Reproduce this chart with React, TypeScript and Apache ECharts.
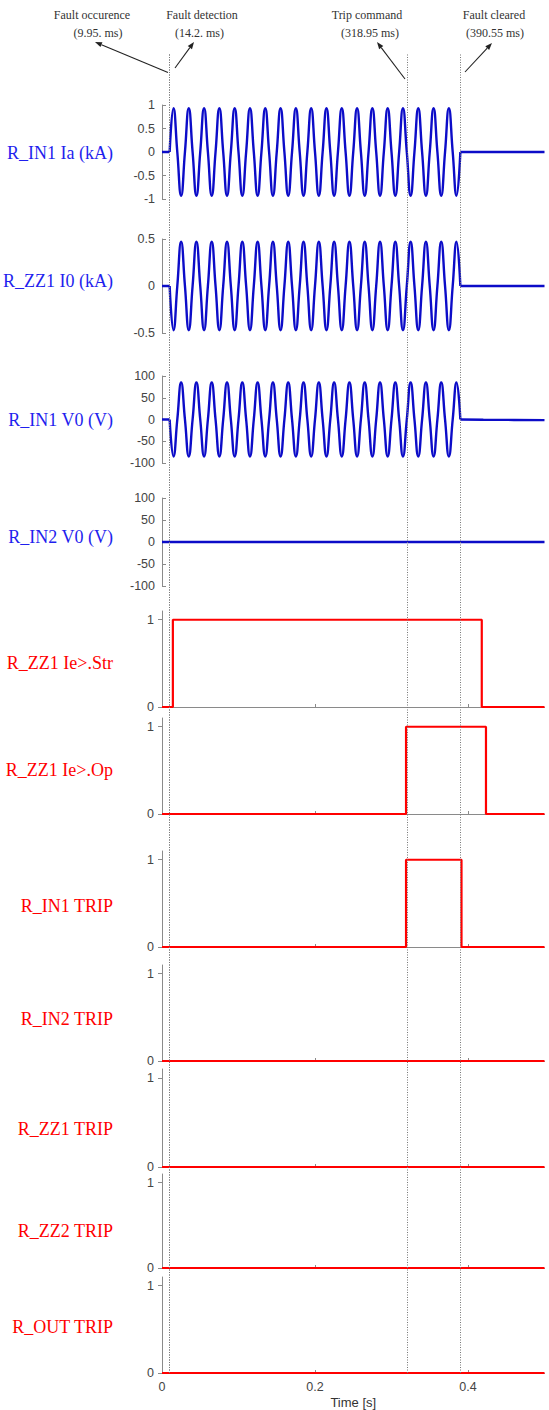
import React, { useEffect, useRef } from "react";
import * as echarts from "echarts";

// ---------- data ----------
const eventTimesS = [0.00995, 0.0142, 0.31895, 0.39055];
const eventTitles = ["Fault occurence", "Fault detection", "Trip command", "Fault cleared"];
const eventTimeTexts = ["(9.95. ms)", "(14.2. ms)", "(318.95 ms)", "(390.55 ms)"];

// sample grid (5 ms, quarter period of 50 Hz) during the fault, 0.010 s .. 0.390 s
const WAVE_START_S = 0.01;
const WAVE_STEP_S = 0.005;
const WAVE_POINTS = 77;
const faultWaveTimes = Array.from({ length: WAVE_POINTS }, (_, i) => Number((WAVE_START_S + i * WAVE_STEP_S).toFixed(4)));

const iaKA = [
  0,
  0.93, 0, -0.93, 0, 0.93, 0, -0.93, 0, 0.93, 0, -0.93, 0, 0.93, 0, -0.93, 0,
  0.93, 0, -0.93, 0, 0.93, 0, -0.93, 0, 0.93, 0, -0.93, 0, 0.93, 0, -0.93, 0,
  0.93, 0, -0.93, 0, 0.93, 0, -0.93, 0, 0.93, 0, -0.93, 0, 0.93, 0, -0.93, 0,
  0.93, 0, -0.93, 0, 0.93, 0, -0.93, 0, 0.93, 0, -0.93, 0, 0.93, 0, -0.93, 0,
  0.93, 0, -0.93, 0, 0.93, 0, -0.93, 0, 0.93, 0, -0.93, 0,
];
const i0KA = [
  0,
  -0.47, 0, 0.47, 0, -0.47, 0, 0.47, 0, -0.47, 0, 0.47, 0, -0.47, 0, 0.47, 0,
  -0.47, 0, 0.47, 0, -0.47, 0, 0.47, 0, -0.47, 0, 0.47, 0, -0.47, 0, 0.47, 0,
  -0.47, 0, 0.47, 0, -0.47, 0, 0.47, 0, -0.47, 0, 0.47, 0, -0.47, 0, 0.47, 0,
  -0.47, 0, 0.47, 0, -0.47, 0, 0.47, 0, -0.47, 0, 0.47, 0, -0.47, 0, 0.47, 0,
  -0.47, 0, 0.47, 0, -0.47, 0, 0.47, 0, -0.47, 0, 0.47, 0,
];
const v0In1V = [
  0,
  -85, 0, 85, 0, -85, 0, 85, 0, -85, 0, 85, 0, -85, 0, 85, 0,
  -85, 0, 85, 0, -85, 0, 85, 0, -85, 0, 85, 0, -85, 0, 85, 0,
  -85, 0, 85, 0, -85, 0, 85, 0, -85, 0, 85, 0, -85, 0, 85, 0,
  -85, 0, 85, 0, -85, 0, 85, 0, -85, 0, 85, 0, -85, 0, 85, 0,
  -85, 0, 85, 0, -85, 0, 85, 0, -85, 0, 85, 0,
];

// before / after the fault window
const preFaultTimes = [0, 0.00995];
const preFaultZero = [0, 0];
const postFaultTimes = [0.39, 0.5];
const postFaultZero = [0, 0];
const v0In1PostTimes = [0.39, 0.42, 0.46, 0.5];
const v0In1PostV = [0, -0.5, -1, -1.5];
const v0In2Times = [0, 0.5];
const v0In2V = [0, 0];

// digital signals: transition times and values held from each time on
const strTimes = [0, 0.0142, 0.418, 0.5];
const strValues = [0, 1, 0, 0];
const opTimes = [0, 0.319, 0.4235, 0.5];
const opValues = [0, 1, 0, 0];
const in1TripTimes = [0, 0.319, 0.3915, 0.5];
const in1TripValues = [0, 1, 0, 0];
const idleTimes = [0, 0.5];
const idleValues = [0, 0];

const xTicks = [0, 0.2, 0.4];
const digitalTicks = [0, 1];

// ---------- helpers ----------
const pairs = (ts: number[], vs: number[]) => ts.map((t, i) => [t, vs[i]]);
const stepPairs = (ts: number[], vs: number[]) => {
  const out: number[][] = [[ts[0], vs[0]]];
  for (let i = 1; i < ts.length; i++) {
    out.push([ts[i], vs[i - 1]]);
    out.push([ts[i], vs[i]]);
  }
  return out;
};

const BLUE_LINE = "#0c0cc8";
const BLUE_TEXT = "#1f1fee";
const RED = "#ff0000";
const AXIS = "#8a8a8a";
const TICK_TXT = "#444";
const SANS = "'Liberation Sans', Arial, Helvetica, sans-serif";
const SERIF = "'Liberation Serif', 'Times New Roman', serif";

type Seg = { data: number[][]; smooth?: boolean };
type Panel = {
  name: string; color: string; labelY: number;
  top: number; h: number; digital: boolean;
  min: number; max: number; interval?: number;
  segs: Seg[]; lineColor: string;
};

export default function App() {
  const ref = useRef<HTMLDivElement>(null);
  useEffect(() => {
    document.body.style.margin = "0";
    if (!ref.current) return;
    const chart = echarts.init(ref.current, null, { renderer: "svg" });

    const panels: Panel[] = [
      { name: "R_IN1 Ia (kA)", color: BLUE_TEXT, lineColor: BLUE_LINE, labelY: 153, top: 105, h: 94, digital: false, min: -1, max: 1, interval: 0.5,
        segs: [{ data: pairs(preFaultTimes, preFaultZero) }, { data: pairs(faultWaveTimes, iaKA), smooth: true }, { data: pairs(postFaultTimes, postFaultZero) }] },
      { name: "R_ZZ1 I0 (kA)", color: BLUE_TEXT, lineColor: BLUE_LINE, labelY: 281, top: 239, h: 94, digital: false, min: -0.5, max: 0.5, interval: 0.5,
        segs: [{ data: pairs(preFaultTimes, preFaultZero) }, { data: pairs(faultWaveTimes, i0KA), smooth: true }, { data: pairs(postFaultTimes, postFaultZero) }] },
      { name: "R_IN1 V0 (V)", color: BLUE_TEXT, lineColor: BLUE_LINE, labelY: 420, top: 376, h: 87, digital: false, min: -100, max: 100, interval: 50,
        segs: [{ data: pairs(preFaultTimes, preFaultZero) }, { data: pairs(faultWaveTimes, v0In1V), smooth: true }, { data: pairs(v0In1PostTimes, v0In1PostV) }] },
      { name: "R_IN2 V0 (V)", color: BLUE_TEXT, lineColor: BLUE_LINE, labelY: 537, top: 498, h: 88, digital: false, min: -100, max: 100, interval: 50,
        segs: [{ data: pairs(v0In2Times, v0In2V) }] },
      { name: "R_ZZ1 Ie>.Str", color: RED, lineColor: RED, labelY: 663, top: 611, h: 96, digital: true, min: 0, max: 1.1,
        segs: [{ data: stepPairs(strTimes, strValues) }] },
      { name: "R_ZZ1 Ie>.Op", color: RED, lineColor: RED, labelY: 770, top: 718, h: 96, digital: true, min: 0, max: 1.1,
        segs: [{ data: stepPairs(opTimes, opValues) }] },
      { name: "R_IN1 TRIP", color: RED, lineColor: RED, labelY: 906, top: 851, h: 96, digital: true, min: 0, max: 1.1,
        segs: [{ data: stepPairs(in1TripTimes, in1TripValues) }] },
      { name: "R_IN2 TRIP", color: RED, lineColor: RED, labelY: 1019, top: 965, h: 96, digital: true, min: 0, max: 1.1,
        segs: [{ data: stepPairs(idleTimes, idleValues) }] },
      { name: "R_ZZ1 TRIP", color: RED, lineColor: RED, labelY: 1129, top: 1069, h: 98, digital: true, min: 0, max: 1.1,
        segs: [{ data: stepPairs(idleTimes, idleValues) }] },
      { name: "R_ZZ2 TRIP", color: RED, lineColor: RED, labelY: 1231, top: 1174, h: 94, digital: true, min: 0, max: 1.1,
        segs: [{ data: stepPairs(idleTimes, idleValues) }] },
      { name: "R_OUT TRIP", color: RED, lineColor: RED, labelY: 1327, top: 1277, h: 96, digital: true, min: 0, max: 1.1,
        segs: [{ data: stepPairs(idleTimes, idleValues) }] },
    ];

    const LEFT = 162;
    const RIGHT = 4.5;
    const last = panels.length - 1;

    const grids: any[] = panels.map((p) => ({ left: LEFT, right: RIGHT, top: p.top, height: p.h }));
    const xAxes: any[] = panels.map((p, i) => ({
      gridIndex: i, type: "value", min: 0, max: 0.5, show: p.digital,
      axisLine: { show: true, lineStyle: { color: AXIS, width: 1 } },
      axisTick: { show: true, inside: true, length: 3, customValues: xTicks, lineStyle: { color: AXIS } },
      axisLabel: { show: i === last, customValues: xTicks, color: TICK_TXT, fontSize: 12.5, fontFamily: SANS, margin: 7 },
      splitLine: { show: false },
      name: i === last ? "Time [s]" : "",
      nameLocation: "middle", nameGap: 23,
      nameTextStyle: { color: "#333", fontSize: 13, fontFamily: SANS },
    }));
    const yAxes: any[] = panels.map((p, i) => ({
      gridIndex: i, type: "value", min: p.min, max: p.max,
      ...(p.digital ? {} : { interval: p.interval }),
      axisLine: { show: true, lineStyle: { color: AXIS, width: 1 } },
      axisTick: p.digital
        ? { show: true, inside: false, length: 4, customValues: digitalTicks, lineStyle: { color: AXIS } }
        : { show: true, inside: true, length: 4, lineStyle: { color: AXIS } },
      axisLabel: p.digital
        ? { customValues: digitalTicks, color: TICK_TXT, fontSize: 12.5, fontFamily: SANS, margin: 8 }
        : { color: TICK_TXT, fontSize: 12.5, fontFamily: SANS, margin: 7 },
      splitLine: { show: false },
    }));

    const series: any[] = [];
    panels.forEach((p, i) => {
      p.segs.forEach((s) => {
        series.push({
          type: "line", xAxisIndex: i, yAxisIndex: i, data: s.data, smooth: s.smooth ? 0.5 : false,
          symbol: "none", showSymbol: false, z: 3,
          lineStyle: { color: p.lineColor, width: p.digital ? 2.2 : 2.4 },
          silent: true,
        });
      });
    });

    // overlay grid for the dotted event lines spanning all panels
    const ov = panels.length;
    grids.push({ left: LEFT, right: RIGHT, top: 54, height: 1319 });
    xAxes.push({ gridIndex: ov, type: "value", min: 0, max: 0.5, show: false });
    yAxes.push({ gridIndex: ov, type: "value", min: 0, max: 1, show: false });
    series.push({
      type: "line", xAxisIndex: ov, yAxisIndex: ov, data: [], symbol: "none", z: 1,
      markLine: {
        silent: true, symbol: ["none", "none"], label: { show: false },
        lineStyle: { color: "#777", width: 1, type: [1, 1.5] },
        data: eventTimesS.map((t) => ({ xAxis: t })),
      },
    });

    // annotations
    const arrows = [
      [168, 72.5, 95, 42],
      [175, 68, 194, 42],
      [405, 79, 377, 42],
      [465, 72, 492, 43],
    ];
    const titleX = [92, 202, 367, 494];
    const timeX = [98, 199.5, 370, 495];
    const graphic: any[] = [];
    eventTitles.forEach((t, i) => {
      graphic.push({ type: "text", x: titleX[i], y: 14.7, style: { text: t, fill: "#333", font: `12px ${SERIF}`, textAlign: "center", textVerticalAlign: "middle" } });
      graphic.push({ type: "text", x: timeX[i], y: 33.2, style: { text: eventTimeTexts[i], fill: "#333", font: `12px ${SERIF}`, textAlign: "center", textVerticalAlign: "middle" } });
    });
    arrows.forEach(([x1, y1, x2, y2]) => {
      const dx = x2 - x1, dy = y2 - y1;
      const len = Math.hypot(dx, dy);
      const ux = dx / len, uy = dy / len;
      const hl = 7, hw = 2.6;
      const bx = x2 - ux * hl, by = y2 - uy * hl;
      graphic.push({ type: "line", shape: { x1, y1, x2: bx, y2: by }, style: { stroke: "#222", lineWidth: 1.1 } });
      graphic.push({
        type: "polygon",
        shape: { points: [[x2, y2], [bx - uy * hw, by + ux * hw], [bx + uy * hw, by - ux * hw]] },
        style: { fill: "#222" },
      });
    });
    panels.forEach((p) => {
      graphic.push({ type: "text", x: 113, y: p.labelY, style: { text: p.name, fill: p.color, font: `18px ${SERIF}`, textAlign: "right", textVerticalAlign: "middle" } });
    });

    chart.setOption({
      animation: false,
      backgroundColor: "#fff",
      grid: grids,
      xAxis: xAxes,
      yAxis: yAxes,
      series,
      graphic,
    });
    return () => chart.dispose();
  }, []);
  return <div ref={ref} style={{ width: 549, height: 1410 }} />;
}
